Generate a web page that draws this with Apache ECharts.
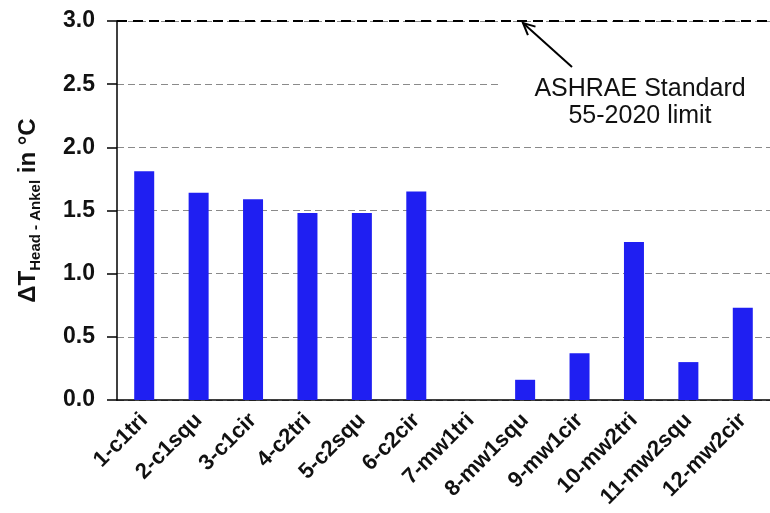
<!DOCTYPE html>
<html>
<head>
<meta charset="utf-8">
<script src="https://cdn.jsdelivr.net/npm/echarts@6/dist/echarts.min.js"></script>
<style>
  html, body { margin: 0; padding: 0; background: #ffffff; }
  #chart { width: 770px; height: 513px; }
</style>
</head>
<body>
<div id="chart"></div>
<script>
// Head-to-ankle temperature difference per test case
const categories = [
  '1-c1tri', '2-c1squ', '3-c1cir', '4-c2tri', '5-c2squ', '6-c2cir',
  '7-mw1tri', '8-mw1squ', '9-mw1cir', '10-mw2tri', '11-mw2squ', '12-mw2cir'
];
const deltaT = [1.81, 1.64, 1.59, 1.48, 1.48, 1.65, 0, 0.16, 0.37, 1.25, 0.30, 0.73];

// Value axis range and the comfort limit line
const yMin = 0;
const yMax = 3;
const yStep = 0.5;
const limitValue = 3.0;
const noteLines = ['ASHRAE Standard', '55-2020 limit'];

const FONT = '"Liberation Sans", Arial, Helvetica, sans-serif';
const chart = echarts.init(document.getElementById('chart'), null, { renderer: 'canvas' });

chart.setOption({
  backgroundColor: '#ffffff',
  animation: false,
  grid: { left: 117, top: 21, width: 659, height: 379 },
  xAxis: {
    type: 'category',
    data: categories,
    axisLine: { lineStyle: { color: '#000', width: 1.5 } },
    axisTick: { alignWithLabel: true, length: 5, lineStyle: { color: '#000', width: 1.5 } },
    axisLabel: {
      interval: 0,
      rotate: 45,
      margin: 17,
      color: '#111',
      fontFamily: FONT,
      fontWeight: 'bold',
      fontSize: 22
    },
    splitLine: { show: false }
  },
  yAxis: {
    type: 'value',
    min: yMin,
    max: yMax,
    interval: yStep,
    name: '{d|ΔT}{s|Head - Ankel}{d| in °C}',
    nameLocation: 'middle',
    nameGap: 74,
    nameRotate: 90,
    nameTextStyle: {
      rich: {
        d: { fontFamily: FONT, fontWeight: 'bold', fontSize: 24, color: '#111', lineHeight: 30 },
        s: { fontFamily: FONT, fontWeight: 'bold', fontSize: 15, color: '#111', verticalAlign: 'bottom', lineHeight: 30 }
      }
    },
    axisLine: { show: true, lineStyle: { color: '#000', width: 1.5 } },
    axisTick: { show: true, inside: false, length: 10, lineStyle: { color: '#000', width: 1.5 } },
    axisLabel: {
      margin: 22,
      color: '#111',
      fontFamily: FONT,
      fontWeight: 'bold',
      fontSize: 23,
      formatter: v => v.toFixed(1)
    },
    splitLine: { show: true, lineStyle: { color: '#8a8a8a', width: 1.2, type: [7, 4] } }
  },
  series: [{
    type: 'bar',
    data: deltaT,
    barWidth: 20,
    itemStyle: { color: '#1f1ff2' },
    markLine: {
      silent: true,
      symbol: ['none', 'none'],
      label: { show: false },
      lineStyle: { color: '#000', width: 2, type: [10, 6] },
      data: [{ yAxis: limitValue }]
    }
  }]
});

// Annotation: note text with a white backing and an arrow pointing at the limit line
const limitY = chart.convertToPixel({ yAxisIndex: 0 }, limitValue);
const head = [523, limitY + 2];
const tail = [572, 67];
const ang = Math.atan2(tail[1] - head[1], tail[0] - head[0]);
const wing = 13, spread = 0.45;
const w1 = [head[0] + wing * Math.cos(ang + spread), head[1] + wing * Math.sin(ang + spread)];
const w2 = [head[0] + wing * Math.cos(ang - spread), head[1] + wing * Math.sin(ang - spread)];

chart.setOption({
  graphic: [
    {
      type: 'rect', z: 50,
      shape: { x: 500, y: 72, width: 270, height: 58 },
      style: { fill: '#ffffff' }
    },
    {
      type: 'text', z: 60,
      style: {
        x: 640, y: 103,
        text: noteLines.join('\n'),
        fontFamily: FONT, fontSize: 25, lineHeight: 27,
        fill: '#111', align: 'center', verticalAlign: 'middle'
      }
    },
    {
      type: 'line', z: 60,
      shape: { x1: tail[0], y1: tail[1], x2: head[0], y2: head[1] },
      style: { stroke: '#000', lineWidth: 2 }
    },
    {
      type: 'polyline', z: 60,
      shape: { points: [w1, head, w2] },
      style: { stroke: '#000', lineWidth: 2, fill: null }
    }
  ]
});
</script>
</body>
</html>
